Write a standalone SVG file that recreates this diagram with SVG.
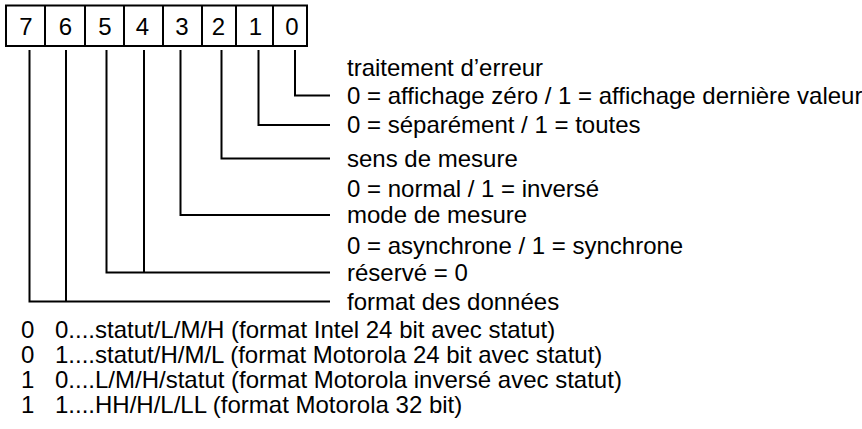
<svg xmlns="http://www.w3.org/2000/svg" width="862" height="429" viewBox="0 0 862 429">
<style>
text{font-family:"Liberation Sans",Arial,sans-serif;font-size:24px;fill:#000}
.c{text-anchor:middle}
.ln{fill:none;stroke:#000;stroke-width:2}
</style>
<rect width="862" height="429" fill="#fff"/>
<g id="register">
<rect class="ln" x="6" y="5.5" width="301" height="40.5"/>
<path class="ln" d="M45 5.5V46M85 5.5V46M124 5.5V46M163 5.5V46M202 5.5V46M236 5.5V46M273 5.5V46"/>
<text class="c" x="26" y="35">7</text>
<text class="c" x="65.5" y="35">6</text>
<text class="c" x="105" y="35">5</text>
<text class="c" x="142.5" y="35">4</text>
<text class="c" x="182" y="35">3</text>
<text class="c" x="218.5" y="35">2</text>
<text class="c" x="255.5" y="35">1</text>
<text class="c" x="292" y="35">0</text>
</g>
<g id="connectors">
<path class="ln" d="M295 50V95.5H330"/>
<path class="ln" d="M258.5 50V125H330"/>
<path class="ln" d="M221.5 50V158.5H330"/>
<path class="ln" d="M180.5 50V215H330"/>
<path class="ln" d="M106.5 50V272.5H330M144 50V272.5"/>
<path class="ln" d="M29.5 50V301.5H330M66 50V301.5"/>
</g>
<g id="labels">
<text x="347" y="75.5">traitement d’erreur</text>
<text x="347" y="103.5">0 = affichage zéro / 1 = affichage dernière valeur</text>
<text x="347" y="133">0 = séparément / 1 = toutes</text>
<text x="347" y="166.5">sens de mesure</text>
<text x="347" y="196.5">0 = normal / 1 = inversé</text>
<text x="347" y="223">mode de mesure</text>
<text x="347" y="253.5">0 = asynchrone / 1 = synchrone</text>
<text x="347" y="280.5">réservé = 0</text>
<text x="347" y="309.5">format des données</text>
</g>
<g id="formats">
<text x="21" y="337.5">0</text><text x="55" y="337.5">0....statut/L/M/H (format Intel 24 bit avec statut)</text>
<text x="21" y="362.5">0</text><text x="55" y="362.5">1....statut/H/M/L (format Motorola 24 bit avec statut)</text>
<text x="21" y="387.5">1</text><text x="55" y="387.5">0....L/M/H/statut (format Motorola inversé avec statut)</text>
<text x="21" y="412.5">1</text><text x="55" y="412.5">1....HH/H/L/LL (format Motorola 32 bit)</text>
</g>
</svg>
